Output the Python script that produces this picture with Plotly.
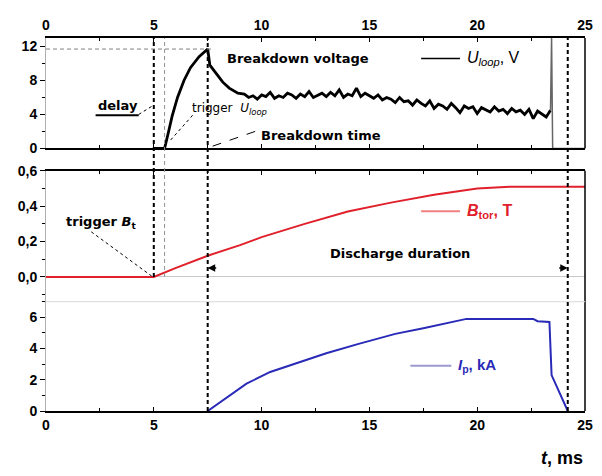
import plotly.graph_objects as go

# ---------------- data ----------------
# Loop voltage U_loop (V), top panel
u_rise_t = [5.0, 5.5, 5.66, 5.85, 6.1, 6.4, 6.7, 7.1, 7.5, 7.6, 7.9, 8.2, 8.5, 8.9]
u_rise_v = [0.0, 0.0, 1.7, 3.8, 6.0, 8.0, 9.5, 10.8, 11.7, 9.8, 8.8, 7.8, 7.1, 6.5]
u_flat_t = [9.2, 9.4, 9.6, 9.8, 10.0, 10.2, 10.4, 10.6, 10.8, 11.0, 11.2, 11.4, 11.6, 11.8,
            12.0, 12.2, 12.4, 12.6, 12.8, 13.0, 13.2, 13.4, 13.6, 13.8, 14.0, 14.2, 14.4,
            14.6, 14.8, 15.0, 15.2, 15.4, 15.6, 15.8, 16.0, 16.2, 16.4, 16.6, 16.8, 17.0,
            17.2, 17.4, 17.6, 17.8, 18.0, 18.2, 18.4, 18.6, 18.8, 19.0, 19.2, 19.4, 19.6,
            19.8, 20.0, 20.2, 20.4, 20.6, 20.8, 21.0, 21.2, 21.4, 21.6, 21.8, 22.0, 22.2,
            22.4, 22.6, 22.8, 23.0, 23.2, 23.4]
u_flat_v = [6.4, 6.0, 6.2, 5.8, 6.3, 6.1, 6.6, 5.9, 6.2, 6.0, 6.5, 6.3, 5.9, 6.4,
            6.1, 6.7, 6.0, 6.3, 6.5, 6.1, 6.6, 6.2, 6.9, 6.0, 6.4, 6.2, 7.1,
            6.1, 6.5, 6.2, 5.9, 6.3, 5.7, 6.0, 5.8, 5.4, 6.0, 5.5, 5.6, 5.1,
            5.7, 5.3, 5.0, 5.6, 4.7, 5.2, 5.0, 4.6, 5.3, 4.8, 4.2, 5.0, 4.7,
            4.9, 4.1, 4.8, 4.5, 4.3, 4.9, 4.4, 4.6, 4.1, 4.7, 4.3, 4.5, 4.0,
            4.6, 3.5, 4.4, 4.1, 3.7, 4.5]
u_spike_t = [23.4, 23.45, 23.5, 25.0]
u_spike_v = [4.5, 13.0, 0.0, 0.0]

# Toroidal field B_tor (T), middle panel
b_t = [0, 5.0, 6.0, 7.5, 9.0, 10.0, 12.0, 14.0, 16.0, 18.0, 20.0, 21.5, 23.0, 25.0]
b_v = [0, 0.0, 0.05, 0.12, 0.18, 0.225, 0.30, 0.37, 0.42, 0.465, 0.50, 0.51, 0.51, 0.51]

# Plasma current I_p (kA), bottom panel
i_t = [7.5, 8.3, 9.3, 10.4, 11.6, 13.0, 14.5, 16.2, 17.5, 18.4, 19.5, 22.6, 22.8, 23.35, 23.45, 24.2]
i_v = [0.0, 0.8, 1.75, 2.5, 3.06, 3.7, 4.3, 4.94, 5.3, 5.56, 5.9, 5.9, 5.75, 5.7, 2.3, 0.0]

# Event times (ms) and levels
t_trigger_b = 5.0
t_trigger_u = 5.5
t_breakdown = 7.5
t_end = 24.2
u_breakdown = 11.7

# Tick labels
x_ticks = [0, 5, 10, 15, 20, 25]
u_ticks = [0, 4, 8, 12]
b_ticks = [0.0, 0.2, 0.4, 0.6]
b_tick_text = ["0,0", "0,2", "0,4", "0,6"]
i_ticks = [0, 2, 4, 6]

# ---------------- layout helpers ----------------
DOM_I = [0.0, 0.293]
DOM_B = [0.293, 0.644]
DOM_U = [0.704, 1.0]
RNG_I = [0, 7]
RNG_B = [-0.14, 0.6]
RNG_U = [0, 13]


def to_paper(v, dom, rng):
    return dom[0] + (v - rng[0]) / (rng[1] - rng[0]) * (dom[1] - dom[0])


FONT = "Liberation Sans, Arial, sans-serif"
AFONT = "DejaVu Sans, sans-serif"
tickfont = dict(family=FONT, size=14, color="black", weight="bold")

fig = go.Figure()
fig.add_trace(go.Scatter(x=i_t, y=i_v, xaxis="x", yaxis="y", mode="lines",
                         line=dict(color="#2a2ab8", width=2), showlegend=False))
fig.add_trace(go.Scatter(x=b_t, y=b_v, xaxis="x2", yaxis="y2", mode="lines",
                         line=dict(color="#e0202a", width=2), showlegend=False))
fig.add_trace(go.Scatter(x=u_rise_t + u_flat_t, y=u_rise_v + u_flat_v, xaxis="x3", yaxis="y3",
                         mode="lines", line=dict(color="black", width=2.8), showlegend=False))
fig.add_trace(go.Scatter(x=u_spike_t, y=u_spike_v, xaxis="x3", yaxis="y3", mode="lines",
                         line=dict(color="#666666", width=1.5), showlegend=False))

xcommon = dict(range=[0, 25], showgrid=False, zeroline=False, showline=True,
               linecolor="black", linewidth=2, ticks="inside", ticklen=4,
               tickcolor="black", tickvals=x_ticks, tickfont=tickfont,
               minor=dict(ticks="inside", ticklen=3, dtick=2.5, tick0=0, tickcolor="black"))
ycommon = dict(showgrid=False, zeroline=False, showline=True, linecolor="#b0b0b0",
               linewidth=1, ticks="outside", ticklen=5, tickcolor="black",
               tickfont=tickfont)

# The page has an 8 px body margin, so the figure is 8 px smaller than the window.
fig.update_layout(
    width=594, height=468, autosize=False,
    margin=dict(l=38, r=9, t=21, b=65),
    paper_bgcolor="white", plot_bgcolor="white",
    font=dict(family=FONT, color="black"),
    xaxis=dict(xcommon, anchor="y", side="bottom"),
    xaxis2=dict(xcommon, anchor="y2", side="top", matches="x", showticklabels=False),
    xaxis3=dict(xcommon, anchor="y3", side="top", matches="x", mirror="allticks"),
    yaxis=dict(ycommon, domain=DOM_I, range=RNG_I, tickvals=i_ticks,
               minor=dict(ticks="outside", ticklen=3, dtick=1, tickcolor="black")),
    yaxis2=dict(ycommon, domain=DOM_B, range=RNG_B, tickvals=b_ticks, ticktext=b_tick_text,
                zeroline=True, zerolinecolor="#c8c8c8", zerolinewidth=1,
                minor=dict(ticks="outside", ticklen=3, dtick=0.1, tickcolor="black")),
    yaxis3=dict(ycommon, domain=DOM_U, range=RNG_U, tickvals=u_ticks,
                minor=dict(ticks="outside", ticklen=3, dtick=2, tickcolor="black")),
)

shapes = []
for yr in ["y domain", "y2 domain", "y3 domain"]:
    shapes.append(dict(type="line", xref="paper", yref=yr, x0=1, x1=1, y0=0, y1=1,
                       line=dict(color="black", width=1.5)))
shapes.append(dict(type="line", xref="paper", yref="y domain", x0=0, x1=1, y0=1, y1=1,
                   line=dict(color="#d8d8d8", width=1)))

b_zero_paper = to_paper(0, DOM_B, RNG_B)
vdash = "4px,3px"
shapes.append(dict(type="line", xref="x", yref="paper", x0=t_trigger_b, x1=t_trigger_b,
                   y0=b_zero_paper, y1=1, line=dict(color="black", width=2, dash=vdash)))
shapes.append(dict(type="line", xref="x", yref="paper", x0=t_trigger_u, x1=t_trigger_u,
                   y0=b_zero_paper, y1=1, line=dict(color="#909090", width=1, dash=vdash)))
shapes.append(dict(type="line", xref="x", yref="paper", x0=t_breakdown, x1=t_breakdown,
                   y0=0, y1=1, line=dict(color="black", width=2, dash=vdash)))
shapes.append(dict(type="line", xref="x", yref="paper", x0=t_end, x1=t_end,
                   y0=0, y1=1, line=dict(color="black", width=2, dash=vdash)))
shapes.append(dict(type="line", xref="x3", yref="y3", x0=0, x1=t_breakdown + 0.3,
                   y0=u_breakdown, y1=u_breakdown,
                   line=dict(color="#808080", width=1, dash=vdash)))
shapes.append(dict(type="line", xref="x3", yref="y3", x0=2.3, x1=4.3, y0=3.9, y1=3.9,
                   line=dict(color="black", width=2)))
shapes.append(dict(type="line", xref="x3", yref="y3", x0=4.3, x1=t_trigger_b, y0=4.0, y1=5.1,
                   line=dict(color="black", width=1, dash="dot")))
shapes.append(dict(type="line", xref="x3", yref="y3", x0=6.8, x1=5.75, y0=3.9, y1=0.9,
                   line=dict(color="black", width=1, dash="dot")))
shapes.append(dict(type="line", xref="x3", yref="y3", x0=9.7, x1=t_breakdown + 0.1, y0=2.0, y1=0.15,
                   line=dict(color="black", width=1, dash="dash")))
shapes.append(dict(type="line", xref="x2", yref="y2", x0=2.1, x1=t_trigger_b - 0.1, y0=0.255, y1=0.005,
                   line=dict(color="black", width=1, dash="dot")))
shapes.append(dict(type="line", xref="x3", yref="y3", x0=17.4, x1=19.2, y0=10.6, y1=10.6,
                   line=dict(color="black", width=1.5)))
shapes.append(dict(type="line", xref="x2", yref="y2", x0=17.4, x1=19.2, y0=0.372, y1=0.372,
                   line=dict(color="#f08080", width=2)))
shapes.append(dict(type="line", xref="x", yref="y", x0=16.9, x1=18.8, y0=2.9, y1=2.9,
                   line=dict(color="#9a9ad0", width=2)))
fig.update_layout(shapes=shapes)

ann_font = dict(family=AFONT, size=13, color="black", weight="bold")
anns = [
    dict(x=8.3, y=10.6, xref="x3", yref="y3", text="Breakdown voltage", showarrow=False,
         xanchor="left", font=ann_font),
    dict(x=2.3, y=5.1, xref="x3", yref="y3", text="delay", showarrow=False,
         xanchor="left", font=dict(ann_font, size=13)),
    dict(x=6.7, y=4.6, xref="x3", yref="y3",
         text="trigger  <i>U</i><sub><i>loop</i></sub>", showarrow=False,
         xanchor="left", font=dict(family=AFONT, size=12, color="black")),
    dict(x=9.9, y=1.5, xref="x3", yref="y3", text="Breakdown time", showarrow=False,
         xanchor="left", font=ann_font),
    dict(x=19.45, y=10.6, xref="x3", yref="y3",
         text="<i>U</i><sub><i>loop</i></sub>, V", showarrow=False,
         xanchor="left", font=dict(family=FONT, size=16, color="black")),
    dict(x=0.85, y=0.31, xref="x2", yref="y2", text="trigger <i>B</i><sub>t</sub>",
         showarrow=False, xanchor="left", font=ann_font),
    dict(x=19.45, y=0.372, xref="x2", yref="y2", text="<i>B</i><sub>tor</sub>, T",
         showarrow=False, xanchor="left",
         font=dict(family=FONT, size=16, color="#e0202a", weight="bold")),
    dict(x=13.1, y=0.13, xref="x2", yref="y2", text="Discharge duration", showarrow=False,
         xanchor="left", font=ann_font),
    dict(x=t_breakdown, y=0.05, xref="x2", yref="y2", text="", showarrow=True,
         arrowhead=2, arrowsize=1, arrowwidth=1.5, ax=10, ay=0, arrowcolor="black"),
    dict(x=t_end, y=0.05, xref="x2", yref="y2", text="", showarrow=True,
         arrowhead=2, arrowsize=1, arrowwidth=1.5, ax=-10, ay=0, arrowcolor="black"),
    dict(x=19.0, y=2.9, xref="x", yref="y", text="<i>I</i><sub>p</sub>, kA", showarrow=False,
         xanchor="left", font=dict(family=FONT, size=15, color="#2a2ab8", weight="bold")),
    dict(x=1.0, y=-0.125, xref="paper", yref="paper", text="<i>t</i>, ms", showarrow=False,
         xanchor="right", yanchor="middle",
         font=dict(family=FONT, size=18, color="black", weight="bold")),
]
fig.update_layout(annotations=anns)

fig.write_html("out.html")
